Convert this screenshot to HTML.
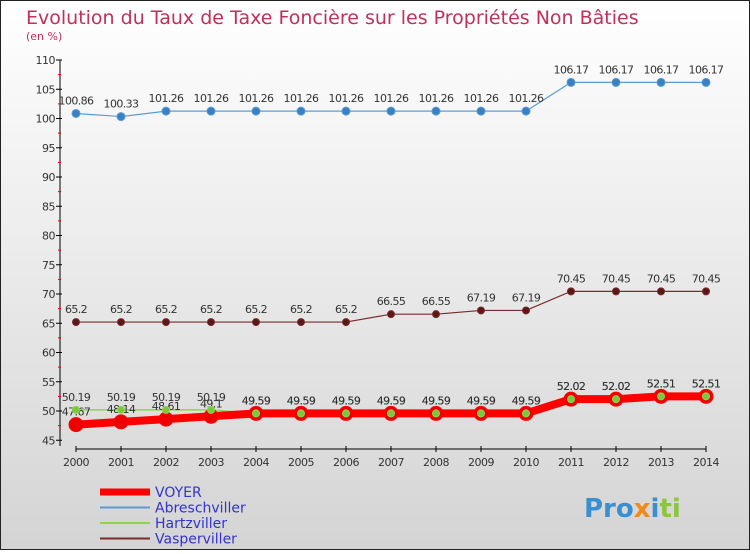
<!DOCTYPE html>
<html><head><meta charset="utf-8"><style>
body{margin:0;width:750px;height:550px;overflow:hidden;font-family:"DejaVu Sans","Liberation Sans",sans-serif}
</style></head><body>
<svg width="750" height="550" xmlns="http://www.w3.org/2000/svg">
<defs><linearGradient id="bg" x1="0" y1="0" x2="0" y2="1"><stop offset="0" stop-color="#ffffff"/><stop offset="1" stop-color="#d4d4d4"/></linearGradient></defs>
<rect x="0.5" y="0.5" width="749" height="549" fill="url(#bg)" stroke="#222"/>
<text x="26" y="24" font-size="19" fill="#c0305a">Evolution du Taux de Taxe Foncière sur les Propriétés Non Bâties</text>
<text x="26" y="40" font-size="11" fill="#c0305a">(en %)</text>
<g id="axes"></g><g id="series"></g><g id="legend"></g>
<text x="584" y="517" font-size="26" font-weight="bold" fill="#3a8fd0">Pro<tspan fill="#f08a1c">x</tspan><tspan fill="#3a8fd0">i</tspan><tspan fill="#8cc63f">ti</tspan></text>
</svg>
<script>
const years=[2000,2001,2002,2003,2004,2005,2006,2007,2008,2009,2010,2011,2012,2013,2014];
const voyer=[47.67,48.14,48.61,49.1,49.59,49.59,49.59,49.59,49.59,49.59,49.59,52.02,52.02,52.51,52.51];
const abreschviller=[100.86,100.33,101.26,101.26,101.26,101.26,101.26,101.26,101.26,101.26,101.26,106.17,106.17,106.17,106.17];
const hartzviller=[50.19,50.19,50.19,50.19,49.59,49.59,49.59,49.59,49.59,49.59,49.59,52.02,52.02,52.51,52.51];
const vasperviller=[65.2,65.2,65.2,65.2,65.2,65.2,65.2,66.55,66.55,67.19,67.19,70.45,70.45,70.45,70.45];
const yTicks=[45,50,55,60,65,70,75,80,85,90,95,100,105,110];
const NS="http://www.w3.org/2000/svg";
const x=i=>76+i*45, y=v=>60+(110-v)*5.85;
function mk(t,a,p){const e=document.createElementNS(NS,t);for(const k in a)e.setAttribute(k,a[k]);p.appendChild(e);return e;}
const ax=document.getElementById('axes');
let l=mk('line',{x1:60,y1:60,x2:60,y2:446,stroke:'#000'},ax);


l=mk('line',{x1:76,y1:449,x2:706,y2:449,stroke:'#000'},ax);


yTicks.forEach(v=>{
 mk('line',{x1:56,y1:y(v),x2:62,y2:y(v),stroke:'#000'},ax);
 if(v<110)mk('line',{x1:58,y1:y(v+2.5),x2:61,y2:y(v+2.5),stroke:'#e00'},ax);
 const t=mk('text',{x:55,y:y(v)+4,'font-size':11,fill:'#333','text-anchor':'end','letter-spacing':'-0.5'},ax);
 t.textContent=v;
 
 
});
years.forEach((yr,i)=>{
 mk('line',{x1:x(i),y1:446,x2:x(i),y2:452,stroke:'#000'},ax);
 const t=mk('text',{x:x(i),y:466,'font-size':11,fill:'#333','text-anchor':'middle','letter-spacing':'-0.5'},ax);
 t.textContent=yr;
 
 
});
const sg=document.getElementById('series');
function draw(vals,color,w,r,dot,name,noLine,noDots){
 const g=mk('g',{},sg);
 
 
 if(!noLine)mk('polyline',{points:vals.map((v,i)=>x(i)+','+y(v)).join(' '),fill:'none',stroke:color,'stroke-width':w},g);
 if(noDots)return;
 vals.forEach((v,i)=>{
  const c=mk('circle',{cx:x(i),cy:y(v),r:r,fill:dot,stroke:color,'stroke-width':1},g);
  
  
  const t=mk('text',{x:x(i),y:y(v)-9,'font-size':11,fill:'#333','text-anchor':'middle','letter-spacing':'-0.6'},g);
  t.textContent=String(v);
  
  
 });
}
draw(abreschviller,'#5b9bd5',1.2,4,'#3a80c0','abreschviller');
draw(vasperviller,'#7a2a2a',1.2,3.5,'#5a1818','vasperviller');
draw(hartzviller,'#8fd44f',1.5,3.5,'#7cc83c','hartzviller-line',false,true);
draw(voyer,'#ff0000',8,7,'#ee0000','voyer');
draw(hartzviller,'#8fd44f',1.5,3.5,'#7cc83c','hartzviller',true,false);
const lg=document.getElementById('legend');
[['VOYER','#ff0000',7],['Abreschviller','#5b9bd5',2],['Hartzviller','#8fd44f',2],['Vasperviller','#7a2a2a',2]].forEach((d,i)=>{
 const yy=492+i*15.5;
 const g=mk('g',{},lg);
 
 
 mk('line',{x1:100,y1:yy,x2:150,y2:yy,stroke:d[1],'stroke-width':d[2]},g);
 const t=mk('text',{x:155,y:yy+5,'font-size':14,fill:'#3333cc'},g);
 t.textContent=d[0];
});
</script>
</body></html>
